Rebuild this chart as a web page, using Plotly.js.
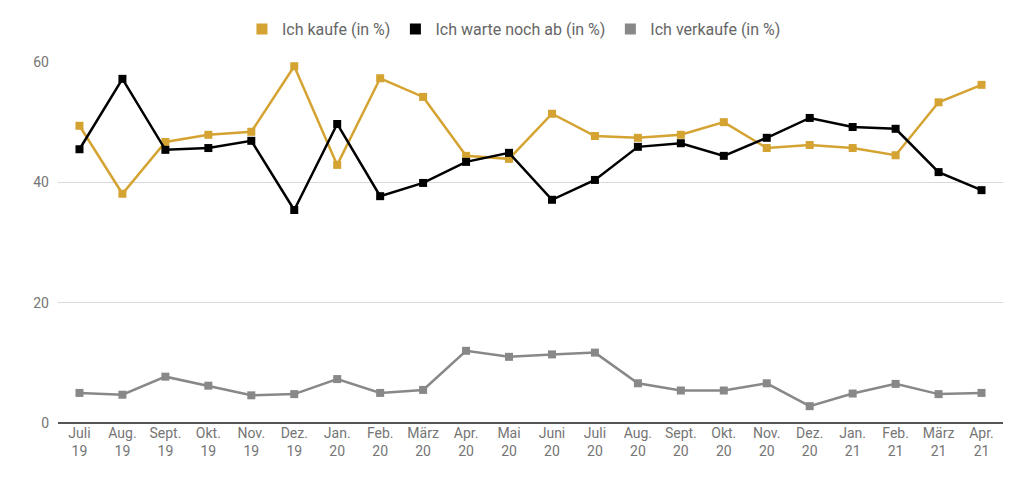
<!DOCTYPE html>
<html>
<head>
<meta charset="utf-8">
<script src="https://cdn.plot.ly/plotly-3.0.1.min.js"></script>
<style>
  html, body { margin: 0; padding: 0; background: #fff; }
  #chart { width: 1024px; height: 482px; }
</style>
</head>
<body>
<div id="chart"></div>
<script>
// Monate (zweizeilige Beschriftung)
var monate = ['Juli<br>19', 'Aug.<br>19', 'Sept.<br>19', 'Okt.<br>19', 'Nov.<br>19', 'Dez.<br>19',
              'Jan.<br>20', 'Feb.<br>20', 'März<br>20', 'Apr.<br>20', 'Mai<br>20', 'Juni<br>20',
              'Juli<br>20', 'Aug.<br>20', 'Sept.<br>20', 'Okt.<br>20', 'Nov.<br>20', 'Dez.<br>20',
              'Jan.<br>21', 'Feb.<br>21', 'März<br>21', 'Apr.<br>21'];

var kaufe = [49.4, 38.1, 46.7, 47.9, 48.4, 59.3, 42.9, 57.3, 54.2, 44.4, 43.9, 51.4,
             47.7, 47.4, 47.9, 50.0, 45.7, 46.2, 45.7, 44.5, 53.3, 56.2];

var warte = [45.5, 57.2, 45.4, 45.7, 46.9, 35.4, 49.7, 37.7, 39.9, 43.4, 44.9, 37.1,
             40.4, 45.9, 46.5, 44.4, 47.4, 50.7, 49.2, 48.9, 41.7, 38.7];

var verkaufe = [5.0, 4.7, 7.7, 6.2, 4.6, 4.8, 7.3, 5.0, 5.5, 12.0, 11.0, 11.4,
                11.7, 6.6, 5.4, 5.4, 6.6, 2.8, 4.9, 6.5, 4.8, 5.0];

var namen = ['Ich kaufe (in %)', 'Ich warte noch ab (in %)', 'Ich verkaufe (in %)'];
var farben = ['#d4a332', '#000000', '#888888'];
var reihen = [kaufe, warte, verkaufe];

var traces = [];
// Linien mit Markern (ohne Legende)
reihen.forEach(function (werte, i) {
    traces.push({
        x: monate,
        y: werte,
        type: 'scatter',
        mode: 'lines+markers',
        name: namen[i],
        line: { color: farben[i], width: 2.5 },
        marker: { color: farben[i], symbol: 'square', size: 8 },
        cliponaxis: false,
        showlegend: false
    });
});
// Legendeneinträge nur als Quadrat
reihen.forEach(function (werte, i) {
    traces.push({
        x: [null],
        y: [null],
        type: 'scatter',
        mode: 'markers',
        name: namen[i],
        marker: { color: farben[i], symbol: 'square', size: 11 },
        hoverinfo: 'skip'
    });
});

var layout = {
    width: 1024,
    height: 482,
    margin: { l: 58, r: 21, t: 62, b: 59 },
    paper_bgcolor: '#fff',
    plot_bgcolor: '#fff',
    font: { family: 'Roboto, sans-serif', size: 14, color: '#757575' },
    showlegend: true,
    legend: {
        orientation: 'h',
        x: 0.4825,
        xanchor: 'center',
        y: 1.091,
        yanchor: 'middle',
        yref: 'paper',
        font: { size: 16, color: '#666666' },
        itemwidth: 30
    },
    xaxis: {
        type: 'category',
        range: [-0.5, 21.5],
        showgrid: false,
        showline: false,
        zeroline: false,
        ticks: '',
        tickfont: { size: 14, color: '#757575' }
    },
    yaxis: {
        range: [0, 60],
        tickvals: [0, 20, 40, 60],
        showgrid: true,
        gridcolor: '#d9d9d9',
        gridwidth: 1,
        zeroline: true,
        zerolinecolor: '#555555',
        zerolinewidth: 2,
        ticks: '',
        ticklabelstandoff: 8,
        tickfont: { size: 14, color: '#757575' }
    }
};

Plotly.newPlot('chart', traces, layout, { displayModeBar: false, staticPlot: true });
</script>
</body>
</html>
